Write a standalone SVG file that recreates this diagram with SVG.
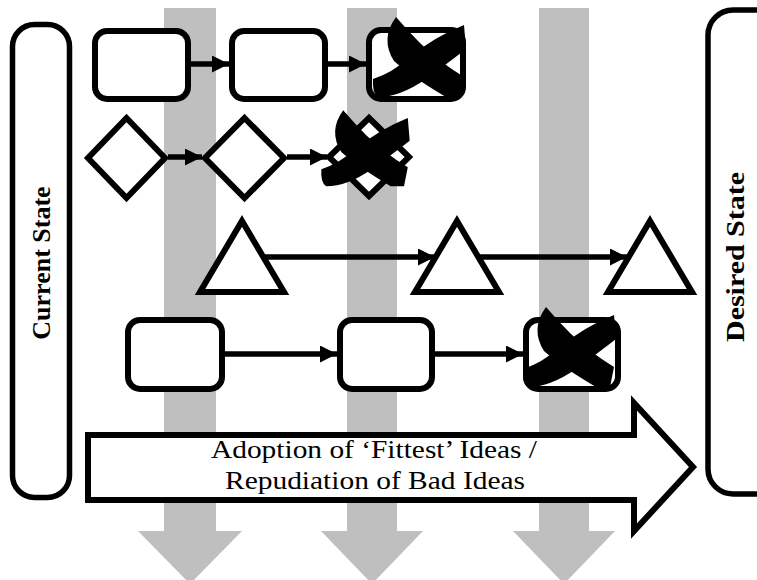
<svg xmlns="http://www.w3.org/2000/svg" width="757" height="580" viewBox="0 0 757 580">
<style>
.lane{fill:#bfbfbf}
.box{fill:#fff;stroke:#000;stroke-width:6}
.shape{fill:#fff;stroke:#000;stroke-width:6;stroke-linejoin:miter}
.pill{fill:#fff;stroke:#000;stroke-width:5.5}
.con{stroke:#000;stroke-width:5.5;fill:none}
.xm{fill:#000}
.side{font-family:"Liberation Serif",serif;font-weight:bold;font-size:26px;fill:#000}
.lbl{font-family:"Liberation Serif",serif;font-size:25px;fill:#000}
</style>
<defs>
<marker id="ah" markerUnits="userSpaceOnUse" markerWidth="18" markerHeight="18" refX="17" refY="8.5" orient="auto"><path d="M0,0 L17,8.5 L0,17 Z" fill="#000"/></marker>
<g id="xmark">
<path d="M -24,-46 Q -40,-24 -26,-2 Q -8,14 26,34 L 40,34 L 44,14 Q 18,-2 0,-20 Q -12,-32 -24,-46 Z"/>
<path d="M 44,-38 Q 14,-26 -10,-6 Q -28,10 -47,16 Q -48,30 -42,34 Q -20,34 6,16 Q 28,0 46,-14 Z"/>
</g>
</defs>
<g id="lanes">
<path class="lane" d="M164,8 H216 V531 H242 L190,584 L138,531 H164 Z"/>
<path class="lane" d="M347,8 H397 V531 H423 L372,584 L321,531 H347 Z"/>
<path class="lane" d="M539,8 H589 V531 H615 L564,584 L513,531 H539 Z"/>
</g>
<g id="current-state">
<rect class="pill" x="12.5" y="24.5" width="57" height="473" rx="22"/>
<text class="side" transform="translate(50,263) rotate(-90)" text-anchor="middle">Current State</text>
</g>
<g id="desired-state">
<rect class="pill" x="708" y="10" width="90" height="484" rx="25"/>
<text class="side" transform="translate(744,257) rotate(-90)" text-anchor="middle" textLength="170" lengthAdjust="spacingAndGlyphs">Desired State</text>
</g>
<g id="progress-arrow">
<path class="shape" d="M88,435 H634 V403 L693,467 L634,531 V500 H88 Z"/>
<text class="lbl" x="374" y="458" text-anchor="middle" textLength="326" lengthAdjust="spacingAndGlyphs">Adoption of ‘Fittest’ Ideas /</text>
<text class="lbl" x="375" y="489" text-anchor="middle" textLength="300" lengthAdjust="spacingAndGlyphs">Repudiation of Bad Ideas</text>
</g>
<g id="row1-box1"><rect class="box" x="95" y="31" width="93" height="68" rx="12"/></g>
<g id="row1-box2"><rect class="box" x="232" y="31" width="93" height="68" rx="12"/></g>
<g id="row1-box3"><rect class="box" x="369" y="30" width="94" height="69" rx="12"/><use href="#xmark" class="xm" transform="translate(420,63)"/></g>
<g id="row2-diamond1"><path class="shape" d="M126.5,118 L165,158 L126.5,198 L88,158 Z"/></g>
<g id="row2-diamond2"><path class="shape" d="M244.5,118 L284,158 L244.5,198 L205,158 Z"/></g>
<g id="row2-diamond3"><path class="shape" d="M369,118 L409,157 L369,196 L329,157 Z"/><use href="#xmark" class="xm" transform="translate(366,154) scale(0.95)"/></g>
<g id="row3-tri1"><path class="shape" d="M242,221 L284,292 L200,292 Z"/></g>
<g id="row3-tri2"><path class="shape" d="M457,221 L499,292 L415,292 Z"/></g>
<g id="row3-tri3"><path class="shape" d="M650,221 L692,292 L608,292 Z"/></g>
<g id="row4-box1"><rect class="box" x="128" y="320" width="94" height="69" rx="12"/></g>
<g id="row4-box2"><rect class="box" x="340" y="320" width="92" height="69" rx="12"/></g>
<g id="row4-box3"><rect class="box" x="526" y="320" width="92" height="69" rx="12"/><use href="#xmark" class="xm" transform="translate(570,353)"/></g>
<g id="connectors">
<line class="con" x1="191" y1="64" x2="229" y2="64" marker-end="url(#ah)"/>
<line class="con" x1="328" y1="64" x2="366" y2="64" marker-end="url(#ah)"/>
<line class="con" x1="168" y1="157" x2="202" y2="157" marker-end="url(#ah)"/>
<line class="con" x1="287" y1="157" x2="327" y2="157" marker-end="url(#ah)"/>
<line class="con" x1="265" y1="257" x2="435" y2="257" marker-end="url(#ah)"/>
<line class="con" x1="480" y1="257" x2="627" y2="257" marker-end="url(#ah)"/>
<line class="con" x1="225" y1="354" x2="337" y2="354" marker-end="url(#ah)"/>
<line class="con" x1="435" y1="354" x2="523" y2="354" marker-end="url(#ah)"/>
</g>
</svg>
